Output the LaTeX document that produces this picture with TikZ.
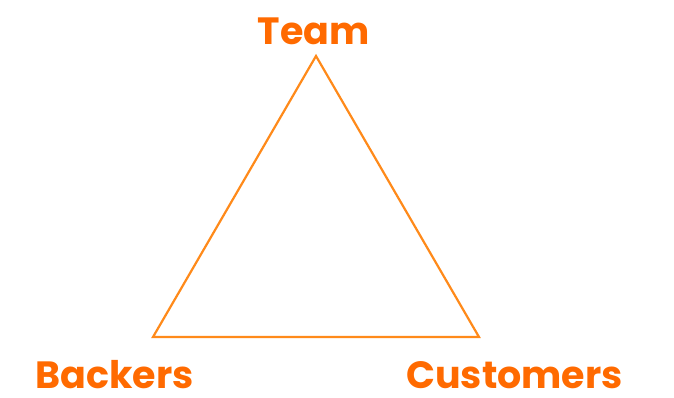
\documentclass[tikz,border=0pt]{standalone}
\usepackage{fontspec}
\setmainfont{Poppins}
\definecolor{labelorange}{HTML}{FF6A00}
\definecolor{lineorange}{HTML}{FF8A1A}
\begin{document}
\begin{tikzpicture}[x=1pt,y=-1pt,
  lbl/.style={anchor=base,inner sep=0pt,text depth=0pt,text=labelorange,font=\fontsize{38}{42}\selectfont\bfseries},
  edge/.style={draw=lineorange,line width=2.2pt,line join=miter}]
\useasboundingbox (0,0) rectangle (674,397);
\coordinate (t) at (316,56);
\coordinate (bl) at (153,337);
\coordinate (br) at (479,337);
\node[lbl] (team) at (313.5,44) {Team};
\node[lbl] (backers) at (114.5,388) {Backers};
\node[lbl] (customers) at (514.5,388) {Customers};
\draw[edge] (t) -- (br) -- (bl) -- cycle;
\end{tikzpicture}
\end{document}
